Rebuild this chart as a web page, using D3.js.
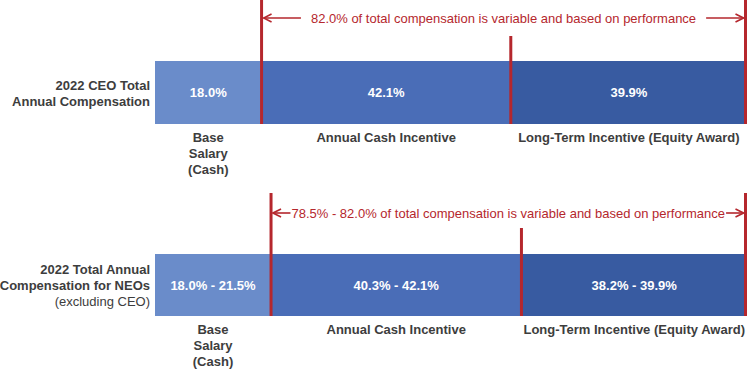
<!DOCTYPE html>
<html><head><meta charset="utf-8">
<script src="https://cdn.jsdelivr.net/npm/d3@7"></script>
<style>body{margin:0;background:#fff}svg{display:block}</style>
</head><body><div id="chart"></div>
<script>
const rowLabels = [
  ["2022 CEO Total", "Annual Compensation"],
  ["2022 Total Annual", "Compensation for NEOs", "(excluding CEO)"]
];
const categories = ["Base Salary (Cash)", "Annual Cash Incentive", "Long-Term Incentive (Equity Award)"];
const categoryLines = [["Base", "Salary", "(Cash)"], ["Annual Cash Incentive"], ["Long-Term Incentive (Equity Award)"]];
const ceoValues = [18.0, 42.1, 39.9];
const neoValues = [19.6, 42.3, 38.1]; // drawn shares
const ceoLabels = ["18.0%", "42.1%", "39.9%"];
const neoLabels = ["18.0% - 21.5%", "40.3% - 42.1%", "38.2% - 39.9%"];
const annotations = [
  "82.0% of total compensation is variable and based on performance",
  "78.5% - 82.0% of total compensation is variable and based on performance"
];

const W = 749, H = 370;
const colors = ["#6a8cca", "#4a6db7", "#385ba1"];
const red = "#b5272d";
const svg = d3.select("#chart").append("svg").attr("width", W).attr("height", H)
  .style("font-family", "Arial, 'Liberation Sans', sans-serif");

const x = d3.scaleLinear().domain([0, 100]).range([155, 747]);
const rows = [
  {values: ceoValues, labels: ceoLabels, barTop: 61, barBot: 124, annTop: 0, midTop: 36, arrowY: 18, note: annotations[0], lab: rowLabels[0], style: "wide"},
  {values: neoValues, labels: neoLabels, barTop: 254, barBot: 316, annTop: 193, midTop: 228, arrowY: 213, note: annotations[1], lab: rowLabels[1], style: "tight"}
];

svg.append("defs").append("marker").attr("id", "arr").attr("viewBox", "0 0 10 10")
  .attr("refX", 9).attr("refY", 5).attr("markerWidth", 10).attr("markerHeight", 10)
  .attr("markerUnits", "userSpaceOnUse").attr("orient", "auto-start-reverse")
  .append("path").attr("d", "M1,1 L9,5 L1,9").attr("fill", "none").attr("stroke", red).attr("stroke-width", 1.6);

rows.forEach((r, ri) => {
  const g = svg.append("g");
  let cum = 0;
  const segs = r.values.map((v, i) => { const s = {x0: cum, x1: cum + v, i}; cum += v; return s; });
  g.selectAll("rect").data(segs).join("rect")
    .attr("x", d => x(d.x0)).attr("width", d => x(d.x1) - x(d.x0))
    .attr("y", r.barTop).attr("height", r.barBot - r.barTop)
    .attr("fill", d => colors[d.i]);
  const midY = (r.barTop + r.barBot) / 2;
  g.selectAll("text.val").data(segs).join("text").attr("class", "val")
    .attr("x", d => (x(d.x0) + x(d.x1)) / 2).attr("y", midY + 4.5)
    .attr("text-anchor", "middle").attr("fill", "#fff").attr("font-weight", "bold").attr("font-size", 13)
    .text(d => r.labels[d.i]);
  segs.forEach(d => {
    const cx = (x(d.x0) + x(d.x1)) / 2;
    categoryLines[d.i].forEach((t, li) => {
      g.append("text").attr("x", cx).attr("y", r.barBot + 18 + li * 16)
        .attr("text-anchor", "middle").attr("fill", "#3d3d3d").attr("font-weight", "bold").attr("font-size", 13)
        .text(t);
    });
  });
  r.lab.forEach((t, li) => {
    const n = r.lab.length;
    g.append("text").attr("x", 150).attr("y", midY + 5 + (li - (n - 1) / 2) * 16)
      .attr("text-anchor", "end").attr("fill", "#3d3d3d")
      .attr("font-weight", li < 2 ? "bold" : "normal").attr("font-size", 13)
      .text(t);
  });
  const b1 = x(segs[0].x1), b2 = x(segs[1].x1), b3 = x(segs[2].x1) - 1.5;
  [[b1, r.annTop], [b2, r.midTop], [b3, r.annTop]].forEach(([lx, top]) => {
    g.append("line").attr("x1", lx).attr("x2", lx).attr("y1", top).attr("y2", r.barBot)
      .attr("stroke", red).attr("stroke-width", 3);
  });
  const txt = g.append("text").attr("x", (b1 + b3) / 2).attr("y", r.arrowY + 4.5)
    .attr("text-anchor", "middle").attr("fill", red).attr("font-size", 13).text(r.note);
  const bb = txt.node().getBBox();
  const gap = r.style === "wide" ? 10 : 1;
  g.append("line").attr("x1", bb.x - gap).attr("x2", b1 + 2).attr("y1", r.arrowY).attr("y2", r.arrowY)
    .attr("stroke", red).attr("stroke-width", 1.6).attr("marker-end", "url(#arr)");
  g.append("line").attr("x1", bb.x + bb.width + gap).attr("x2", b3 - 2).attr("y1", r.arrowY).attr("y2", r.arrowY)
    .attr("stroke", red).attr("stroke-width", 1.6).attr("marker-end", "url(#arr)");
});
</script></body></html>
